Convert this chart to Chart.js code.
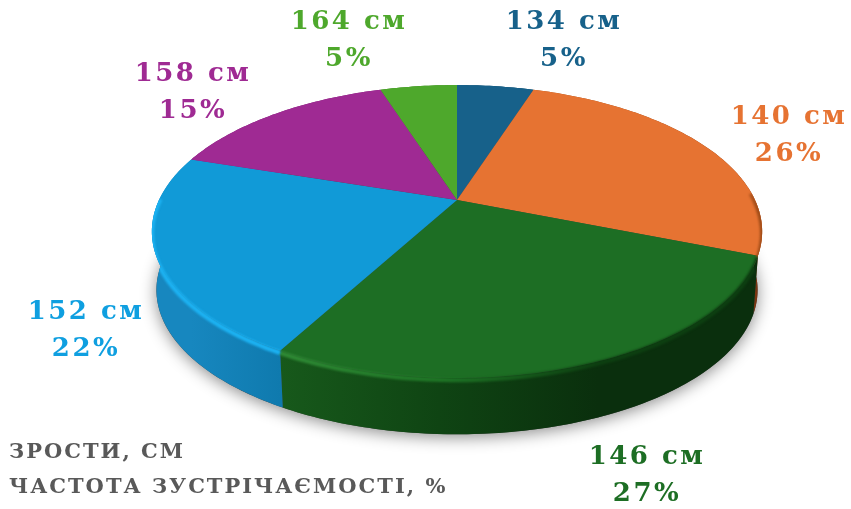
<!DOCTYPE html>
<html>
<head>
<meta charset="utf-8">
<style>
  html, body { margin: 0; padding: 0; background: #fff; }
  #box { width: 851px; height: 509px; }
</style>
<script src="https://cdn.jsdelivr.net/npm/chart.js@4"></script>
</head>
<body>
<div id="box"><canvas id="chart"></canvas></div>
<script>
const heights = ['134 см', '140 см', '146 см', '152 см', '158 см', '164 см'];
const shares = [5, 26, 27, 22, 15, 5];
const noteLines = ['ЗРОСТИ, СМ', 'ЧАСТОТА ЗУСТРІЧАЄМОСТІ, %'];

const faceColors = ['#17618a', '#e67332', '#1d6e24', '#119ad7', '#9f2a93', '#4ea82c'];
const labelColors = ['#17618a', '#e67332', '#1d6e24', '#0f9fe0', '#9f2a93', '#4ea82c'];
const wallStops = [
    ['#0f4a6b', '#0f4a6b'], ['#b05518', '#7a3510'], ['#17591b', '#0f4413', '#0a2f0d', '#0a2f0d'],
    ['#1787bf', '#0f7aae'], ['#7d2074', '#7d2074'], ['#3c8522', '#3c8522']
];
const rimStops = [
    null, ['#e67332', '#e67332', '#e67332', '#e67332', '#e67332', '#e67332', '#e67332', '#e67332', '#a04c18'],
    ['#2f8a35', '#1f7526', '#0d3f11', '#0d3f11'],
    ['#1cb2f2', '#1cb2f2'], null, null
];

// Label centres, in the same order as the slices
const labelSpots = [[564, 40], [789, 135], [647, 475], [86, 330], [193, 92], [349, 40]];

// Perspective of the disc
const view = { cx: 457, cy: 200, r: 298, k: 139.7, p: 0.215, depth: 59, shrink: 0.985 };

function project(angle, lower) {
    const x = Math.cos(angle), y = Math.sin(angle);
    const w = 1 - view.p * y;
    const s = lower ? view.shrink : 1;
    return {
        x: view.cx + s * view.r * x / w,
        y: view.cy + s * view.k * y / w + (lower ? view.depth : 0)
    };
}

function traceArc(ctx, start, end, lower, reverse) {
    const steps = Math.max(8, Math.ceil(Math.abs(end - start) * 60));
    for (let i = 0; i <= steps; i++) {
        const t = reverse ? 1 - i / steps : i / steps;
        const pt = project(start + (end - start) * t, lower);
        ctx.lineTo(pt.x, pt.y);
    }
}

// Horizontal gradient over the screen extent of one slice edge
function sideGradient(ctx, start, end, stops) {
    const a = project(start), b = project(end);
    const left = Math.min(a.x, b.x), right = Math.max(a.x, b.x);
    const grad = ctx.createLinearGradient(left, 0, Math.max(right, left + 1), 0);
    stops.forEach((c, i) => grad.addColorStop(i / (stops.length - 1), c));
    return grad;
}

const tiltedPie = {
    id: 'tiltedPie',
    beforeDatasetsDraw(chart) {
        const ctx = chart.ctx;
        const arcs = chart.getDatasetMeta(0).data;
        ctx.save();

        // Soft shadow under the disc
        ctx.save();
        ctx.shadowColor = 'rgba(0,0,0,0.45)';
        ctx.shadowBlur = 16;
        ctx.shadowOffsetY = 3;
        ctx.fillStyle = '#444';
        ctx.beginPath();
        traceArc(ctx, -Math.PI / 2, Math.PI * 1.5, true, false);
        ctx.closePath();
        ctx.fill();
        ctx.restore();

        // Walls
        arcs.forEach((arc, i) => {
            ctx.beginPath();
            traceArc(ctx, arc.startAngle, arc.endAngle, false, false);
            traceArc(ctx, arc.startAngle, arc.endAngle, true, true);
            ctx.closePath();
            ctx.fillStyle = sideGradient(ctx, arc.startAngle, arc.endAngle, wallStops[i]);
            ctx.fill();
        });

        // Top faces
        arcs.forEach((arc, i) => {
            ctx.beginPath();
            ctx.moveTo(view.cx, view.cy);
            traceArc(ctx, arc.startAngle, arc.endAngle, false, false);
            ctx.closePath();
            ctx.fillStyle = faceColors[i];
            ctx.fill();
        });

        // Bevel along the front rim only, kept inside the disc outline
        arcs.forEach((arc, i) => {
            if (!rimStops[i]) return;
            const from = Math.max(arc.startAngle, -0.06);
            const to = Math.min(arc.endAngle, Math.PI + 0.02);
            if (to <= from) return;
            ctx.save();
            ctx.beginPath();
            traceArc(ctx, -Math.PI / 2, Math.PI * 1.5, false, false);
            ctx.closePath();
            ctx.moveTo(project(0, true).x, project(0, true).y);
            traceArc(ctx, 0, Math.PI, true, false);
            ctx.lineTo(project(Math.PI).x, project(Math.PI).y);
            ctx.lineTo(project(0).x, project(0).y);
            ctx.closePath();
            ctx.clip();
            ctx.filter = 'blur(1.2px)';
            ctx.beginPath();
            const first = project(from);
            ctx.moveTo(first.x, first.y + 2);
            const steps = 80;
            for (let s = 1; s <= steps; s++) {
                const pt = project(from + (to - from) * s / steps);
                ctx.lineTo(pt.x, pt.y + 2);
            }
            ctx.strokeStyle = sideGradient(ctx, arc.startAngle, arc.endAngle, rimStops[i]);
            ctx.lineWidth = 4.5;
            ctx.stroke();
            ctx.restore();
        });

        ctx.restore();
        return false;
    },
    afterDraw(chart) {
        const ctx = chart.ctx;
        ctx.save();
        ctx.textAlign = 'center';
        ctx.textBaseline = 'middle';
        ctx.font = 'bold 26px "DejaVu Serif"';
        ctx.letterSpacing = '2.5px';
        heights.forEach((h, i) => {
            const [x, y] = labelSpots[i];
            ctx.fillStyle = labelColors[i];
            ctx.fillText(h, x, y - 18);
            ctx.fillText(shares[i] + '%', x, y + 19);
        });

        ctx.textAlign = 'left';
        ctx.font = 'bold 21px "DejaVu Serif"';
        ctx.letterSpacing = '2px';
        ctx.fillStyle = '#595959';
        noteLines.forEach((line, i) => {
            ctx.fillText(line, 9, 453 + i * 35);
        });
        ctx.restore();
    }
};

new Chart(document.getElementById('chart'), {
    type: 'pie',
    data: {
        labels: heights,
        datasets: [{
            data: shares,
            backgroundColor: faceColors,
            borderWidth: 0
        }]
    },
    options: {
        responsive: true,
        maintainAspectRatio: false,
        animation: false,
        plugins: {
            legend: { display: false },
            tooltip: { enabled: false }
        }
    },
    plugins: [tiltedPie]
});
</script>
</body>
</html>
